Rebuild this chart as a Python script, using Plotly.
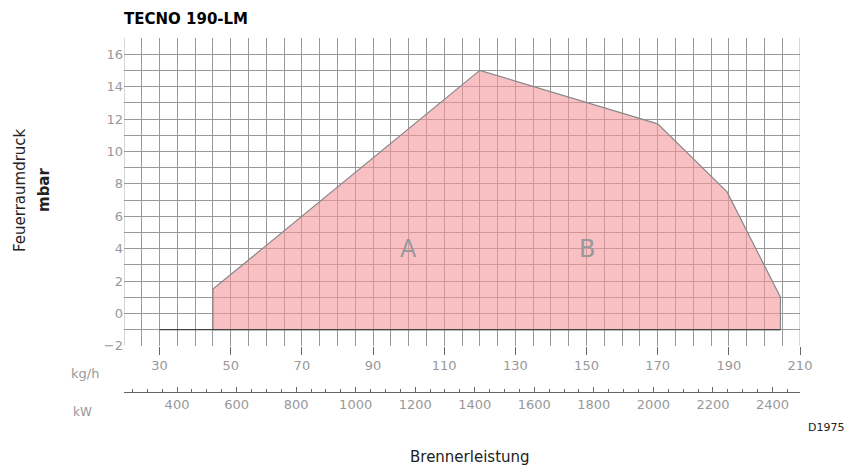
import plotly.graph_objects as go

kg_h = [45, 45, 120, 170, 189.5, 204.5, 204.5]
mbar = [-1, 1.5, 15, 11.7, 7.5, 1, -1]
base_x = [30, 204.5]
base_y = [-1, -1]
kg_ticks = list(range(30, 211, 20))
kw_ticks = list(range(400, 2401, 200))
y_ticks = list(range(-2, 17, 2))

def kw_of(kg):
    return 11.95 * (kg - 1.43)

fig = go.Figure()
fig.add_trace(go.Scatter(x=kg_h + [kg_h[0]], y=mbar + [mbar[0]], fill="toself",
                         fillcolor="rgba(245,150,155,0.6)", mode="lines",
                         line=dict(color="#888", width=1.2), hoverinfo="skip"))
fig.add_trace(go.Scatter(x=base_x, y=base_y, mode="lines",
                         line=dict(color="#444", width=1.2), hoverinfo="skip"))
fig.add_trace(go.Scatter(x=[kw_of(20), kw_of(210)], y=[None, None], xaxis="x2",
                         mode="lines", hoverinfo="skip"))

fig.update_layout(
    width=854, height=468, showlegend=False,
    margin=dict(l=116, r=62, t=30, b=18, autoexpand=False),
    plot_bgcolor="white", paper_bgcolor="white",
    font=dict(family="DejaVu Sans", color="#999", size=13),
    xaxis=dict(range=[20, 210], tickvals=kg_ticks, showgrid=True,
               gridcolor="#999", gridwidth=0.8, ticks="outside", ticklen=8,
               tickcolor="#666", showline=False, zeroline=False, anchor="y",
               minor=dict(dtick=5, showgrid=True, gridcolor="#999")),
    yaxis=dict(range=[-2, 17], domain=[0.267, 1], tickvals=y_ticks,
               gridcolor="#999", gridwidth=0.8, zeroline=False, ticks="",
               minor=dict(dtick=1, showgrid=True, gridcolor="#999")),
    xaxis2=dict(range=[kw_of(20), kw_of(210)], overlaying="x", anchor="free",
                position=0.157, side="bottom", tickvals=kw_ticks, showgrid=False,
                showline=True, linecolor="#666", ticks="inside", ticklen=5,
                tickcolor="#666", zeroline=False,
                minor=dict(dtick=50, ticks="inside", ticklen=3, tickcolor="#666")),
)
fig.add_shape(type="line", xref="x", yref="y", x0=20, x1=20, y0=-2, y1=17,
              line=dict(color="#999", width=0.8))
fig.add_shape(type="line", xref="x", yref="y", x0=210, x1=210, y0=-2, y1=17,
              line=dict(color="#999", width=0.8))
ann = [
    dict(text="<b>TECNO 190-LM</b>", x=122, y=19, size=15, color="black", xa="left"),
    dict(text="kg/h", x=85, y=373, size=13, color="#999", xa="center"),
    dict(text="kW", x=82, y=412, size=12, color="#999", xa="center"),
    dict(text="Brennerleistung", x=470, y=457, size=15, color="#222", xa="center"),
    dict(text="D1975", x=846, y=427, size=11, color="#222", xa="right"),
]
for a in ann:
    fig.add_annotation(text=a["text"], xref="paper", yref="paper",
                       x=(a["x"] - 124) / 676, y=(458 - a["y"]) / 420,
                       xanchor=a["xa"], yanchor="middle", showarrow=False,
                       font=dict(size=a["size"], color=a["color"]))
fig.add_annotation(text="Feuerraumdruck", xref="paper", yref="paper",
                   x=(9 - 124) / 676, y=(458 - 190) / 420, textangle=-90,
                   showarrow=False, font=dict(size=15, color="#222"))
fig.add_annotation(text="<b>mbar</b>", xref="paper", yref="paper",
                   x=(33 - 124) / 676, y=(458 - 190) / 420, textangle=-90,
                   showarrow=False, font=dict(size=15, color="#222"))
fig.add_annotation(text="A", x=100, y=4, showarrow=False,
                   font=dict(size=24, color="#999"))
fig.add_annotation(text="B", x=150, y=4, showarrow=False,
                   font=dict(size=24, color="#999"))
fig.write_html("out.html")
